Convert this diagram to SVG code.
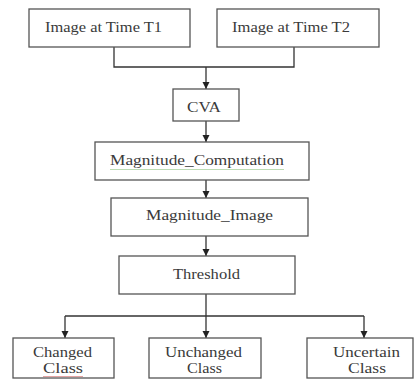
<svg xmlns="http://www.w3.org/2000/svg" width="415" height="390" viewBox="0 0 415 390">
<style>
.box{fill:#fff;stroke:#555;stroke-width:1.3}
.lbl{font-family:"Liberation Serif","Times New Roman",serif;font-size:14px;fill:#3a3a3a}
.con{fill:none;stroke:#333;stroke-width:1.3}
.squig{fill:none;stroke-width:1}
</style>
<defs>
<marker id="arr" markerUnits="userSpaceOnUse" markerWidth="8" markerHeight="8" refX="7" refY="4" orient="auto">
<path d="M0,0.5 L7,4 L0,7.5 Z" fill="#222"/>
</marker>
</defs>
<rect width="415" height="390" fill="#fff"/>
<g id="connectors">
<path class="con" d="M114,47 V67 H294 V47"/>
<path class="con" d="M206,67 V89" marker-end="url(#arr)"/>
<path class="con" d="M206,121 V142" marker-end="url(#arr)"/>
<path class="con" d="M206,180 V198" marker-end="url(#arr)"/>
<path class="con" d="M206,236 V256" marker-end="url(#arr)"/>
<path class="con" d="M206,294 V338" marker-end="url(#arr)"/>
<path class="con" d="M65,316 H364"/>
<path class="con" d="M65,316 V338" marker-end="url(#arr)"/>
<path class="con" d="M364,316 V338" marker-end="url(#arr)"/>
</g>
<g id="t1">
<rect class="box" x="29" y="9" width="161" height="38"/>
<text class="lbl" x="45" y="32" textLength="117" lengthAdjust="spacingAndGlyphs">Image at Time T1</text>
</g>
<g id="t2">
<rect class="box" x="217" y="9" width="162" height="38"/>
<text class="lbl" x="232" y="32" textLength="118" lengthAdjust="spacingAndGlyphs">Image at Time T2</text>
</g>
<g id="cva">
<rect class="box" x="173" y="89" width="66" height="32"/>
<text class="lbl" x="187" y="112" textLength="34" lengthAdjust="spacingAndGlyphs">CVA</text>
</g>
<g id="magcomp">
<rect class="box" x="95" y="142" width="214" height="38"/>
<text class="lbl" x="110" y="165" textLength="174" lengthAdjust="spacingAndGlyphs">Magnitude_Computation</text>
<path class="squig" stroke="#bcdcb4" d="M110,169.5 H284"/>
</g>
<g id="magimg">
<rect class="box" x="111" y="198" width="197" height="38"/>
<text class="lbl" x="146" y="220" textLength="127" lengthAdjust="spacingAndGlyphs">Magnitude_Image</text>
</g>
<g id="threshold">
<rect class="box" x="119" y="256" width="176" height="38"/>
<text class="lbl" x="173" y="279" textLength="67" lengthAdjust="spacingAndGlyphs">Threshold</text>
</g>
<g id="changed">
<rect class="box" x="13" y="338" width="101" height="40"/>
<text class="lbl" x="33" y="357" textLength="59" lengthAdjust="spacingAndGlyphs">Changed</text>
<text class="lbl" x="43" y="373" textLength="40" lengthAdjust="spacingAndGlyphs">Class</text>
<path class="squig" stroke="#e3a3a3" d="M43,376.5 H83"/>
</g>
<g id="unchanged">
<rect class="box" x="149" y="338" width="112" height="40"/>
<text class="lbl" x="165" y="357" textLength="77" lengthAdjust="spacingAndGlyphs">Unchanged</text>
<text class="lbl" x="187" y="373" textLength="35" lengthAdjust="spacingAndGlyphs">Class</text>
</g>
<g id="uncertain">
<rect class="box" x="307" y="338" width="106" height="40"/>
<text class="lbl" x="333" y="357" textLength="67" lengthAdjust="spacingAndGlyphs">Uncertain</text>
<text class="lbl" x="348" y="373" textLength="38" lengthAdjust="spacingAndGlyphs">Class</text>
</g>
</svg>
